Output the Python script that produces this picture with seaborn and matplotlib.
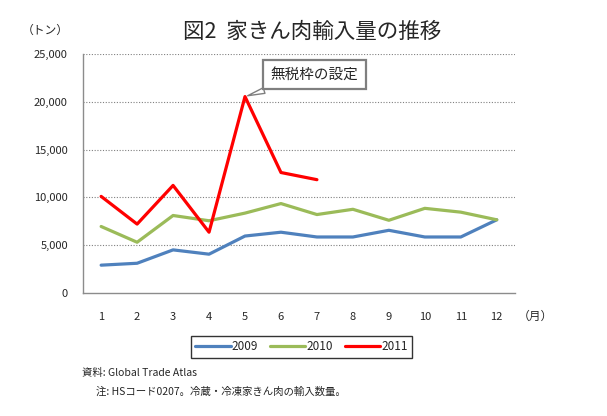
import pandas as pd
import matplotlib
matplotlib.use("Agg")
import matplotlib.pyplot as plt
import seaborn as sns

months = list(range(1, 13))
imports_2009 = [2900, 3100, 4500, 4050, 5950, 6350, 5850, 5850, 6550, 5850, 5850, 7650]
imports_2010 = [6950, 5300, 8100, 7550, 8350, 9350, 8200, 8750, 7600, 8850, 8450, 7650]
imports_2011 = [10100, 7200, 11250, 6350, 20550, 12600, 11850]
years = ['2009', '2010', '2011']
colors = ['#4F81BD', '#9BBB59', '#FF0000']
y_ticks = [0, 5000, 10000, 15000, 20000, 25000]

rows = []
for yr, vals in zip(years, [imports_2009, imports_2010, imports_2011]):
    for m, v in zip(months, vals):
        rows.append({'month': m, 'tons': v, 'year': yr})
df = pd.DataFrame(rows)

sns.set_style('white')
plt.rcParams['font.family'] = ['Noto Sans CJK JP', 'DejaVu Sans']

fig = plt.figure(figsize=(6.07, 4.16), dpi=100)
ax = fig.add_axes([0.137, 0.296, 0.711, 0.574])

sns.lineplot(data=df, x='month', y='tons', hue='year', palette=colors,
             linewidth=2.3, ax=ax, legend=False)

ax.set_xlim(0.5, 12.5)
ax.set_ylim(0, 25000)
ax.set_xticks(months)
ax.set_yticks(y_ticks)
ax.set_yticklabels([f'{t:,}' for t in y_ticks])
ax.tick_params(axis='x', length=0, pad=14, labelsize=8)
ax.tick_params(axis='y', length=0, pad=11, labelsize=8)
ax.set_xlabel('')
ax.set_ylabel('')
for t in y_ticks[1:]:
    ax.axhline(t, color='#808080', linestyle=(0, (1, 1.5)), linewidth=0.8, zorder=0)
for s in ['top', 'right']:
    ax.spines[s].set_visible(False)
for s in ['left', 'bottom']:
    ax.spines[s].set_color('#8c8c8c')
    ax.spines[s].set_linewidth(1.0)

ax.annotate('無税枠の設定', xy=(5, imports_2011[4]), xytext=(6.93, 22850),
            ha='center', va='center', fontsize=10.5,
            bbox=dict(boxstyle='square,pad=0.5', fc='white', ec='#7f7f7f', lw=1.6),
            arrowprops=dict(arrowstyle='wedge,tail_width=0.4,shrink_factor=0.5',
                            fc='white', ec='#7f7f7f', lw=1.0))

fig.text(0.514, 0.923, '図2  家きん肉輸入量の推移', ha='center', va='center', fontsize=15.5)
fig.text(0.074, 0.927, '（トン）', ha='center', va='center', fontsize=8.5)
fig.text(0.882, 0.24, '（月）', ha='center', va='center', fontsize=8.5)

handles = [plt.Line2D([], [], color=c, lw=2.3) for c in colors]
leg = fig.legend(handles, years, loc='center', bbox_to_anchor=(0.497, 0.166), ncol=3,
                 frameon=True, fancybox=False, fontsize=8.5, handlelength=3.0,
                 handletextpad=0.1, columnspacing=1.0, borderpad=0.35)
leg.get_frame().set_edgecolor('black')
leg.get_frame().set_linewidth(1.0)

fig.text(0.135, 0.103, '資料: Global Trade Atlas', ha='left', va='center', fontsize=7.5)
fig.text(0.158, 0.058, '注: HSコード0207。冷蔵・冷凍家きん肉の輸入数量。', ha='left', va='center', fontsize=7.5)

fig.savefig('out.png', dpi=100)
